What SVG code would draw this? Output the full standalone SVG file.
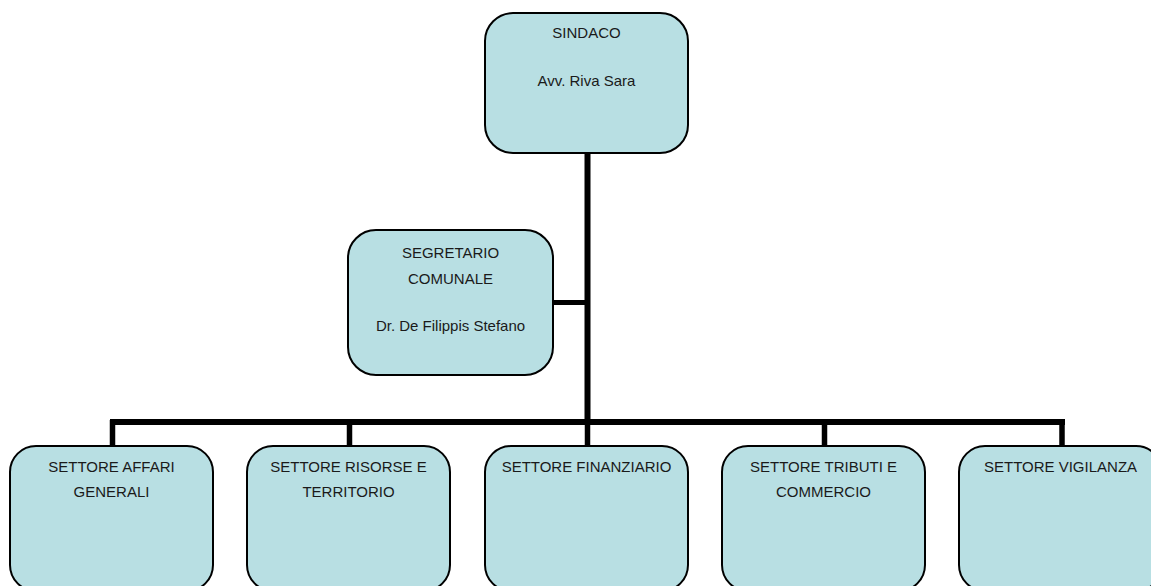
<svg xmlns="http://www.w3.org/2000/svg" width="1151" height="586" viewBox="0 0 1151 586">
<style>
.box{fill:#B8DFE3;stroke:#000;stroke-width:2}
.t{font-family:"Liberation Sans",Arial,sans-serif;font-size:15px;fill:#1a1a1a;text-anchor:middle}
.c{stroke:#000;fill:none;stroke-linecap:butt}
</style>
<rect width="1151" height="586" fill="#fff"/>
<g id="connectors">
<line class="c" x1="587.5" y1="153" x2="587.5" y2="425" stroke-width="6"/>
<line class="c" x1="553" y1="302.5" x2="587" y2="302.5" stroke-width="5"/>
<line class="c" x1="110" y1="422" x2="1065" y2="422" stroke-width="6"/>
<line class="c" x1="112.5" y1="420" x2="112.5" y2="446" stroke-width="5.5"/>
<line class="c" x1="349.5" y1="420" x2="349.5" y2="446" stroke-width="5.5"/>
<line class="c" x1="587.5" y1="420" x2="587.5" y2="446" stroke-width="5.5"/>
<line class="c" x1="824.5" y1="420" x2="824.5" y2="446" stroke-width="5.5"/>
<line class="c" x1="1062" y1="420" x2="1062" y2="446" stroke-width="5.5"/>
</g>
<g id="sindaco">
<rect class="box" x="485" y="13" width="203" height="140" rx="28"/>
<text class="t" x="586.5" y="38">SINDACO</text>
<text class="t" x="586.5" y="86">Avv. Riva Sara</text>
</g>
<g id="segretario">
<rect class="box" x="348" y="230" width="205" height="145" rx="28"/>
<text class="t" x="450.5" y="258">SEGRETARIO</text>
<text class="t" x="450.5" y="284">COMUNALE</text>
<text class="t" x="450.5" y="331">Dr. De Filippis Stefano</text>
</g>
<g id="affari-generali">
<rect class="box" x="10" y="446" width="203" height="145" rx="26"/>
<text class="t" x="111.5" y="472">SETTORE AFFARI</text>
<text class="t" x="111.5" y="497">GENERALI</text>
</g>
<g id="risorse-territorio">
<rect class="box" x="247" y="446" width="203" height="145" rx="26"/>
<text class="t" x="348.5" y="472">SETTORE RISORSE E</text>
<text class="t" x="348.5" y="497">TERRITORIO</text>
</g>
<g id="finanziario">
<rect class="box" x="485" y="446" width="203" height="145" rx="26"/>
<text class="t" x="586.5" y="472">SETTORE FINANZIARIO</text>
</g>
<g id="tributi-commercio">
<rect class="box" x="722" y="446" width="203" height="145" rx="26"/>
<text class="t" x="823.5" y="472">SETTORE TRIBUTI E</text>
<text class="t" x="823.5" y="497">COMMERCIO</text>
</g>
<g id="vigilanza">
<rect class="box" x="959" y="446" width="203" height="145" rx="26"/>
<text class="t" x="1060.5" y="472">SETTORE VIGILANZA</text>
</g>
</svg>
